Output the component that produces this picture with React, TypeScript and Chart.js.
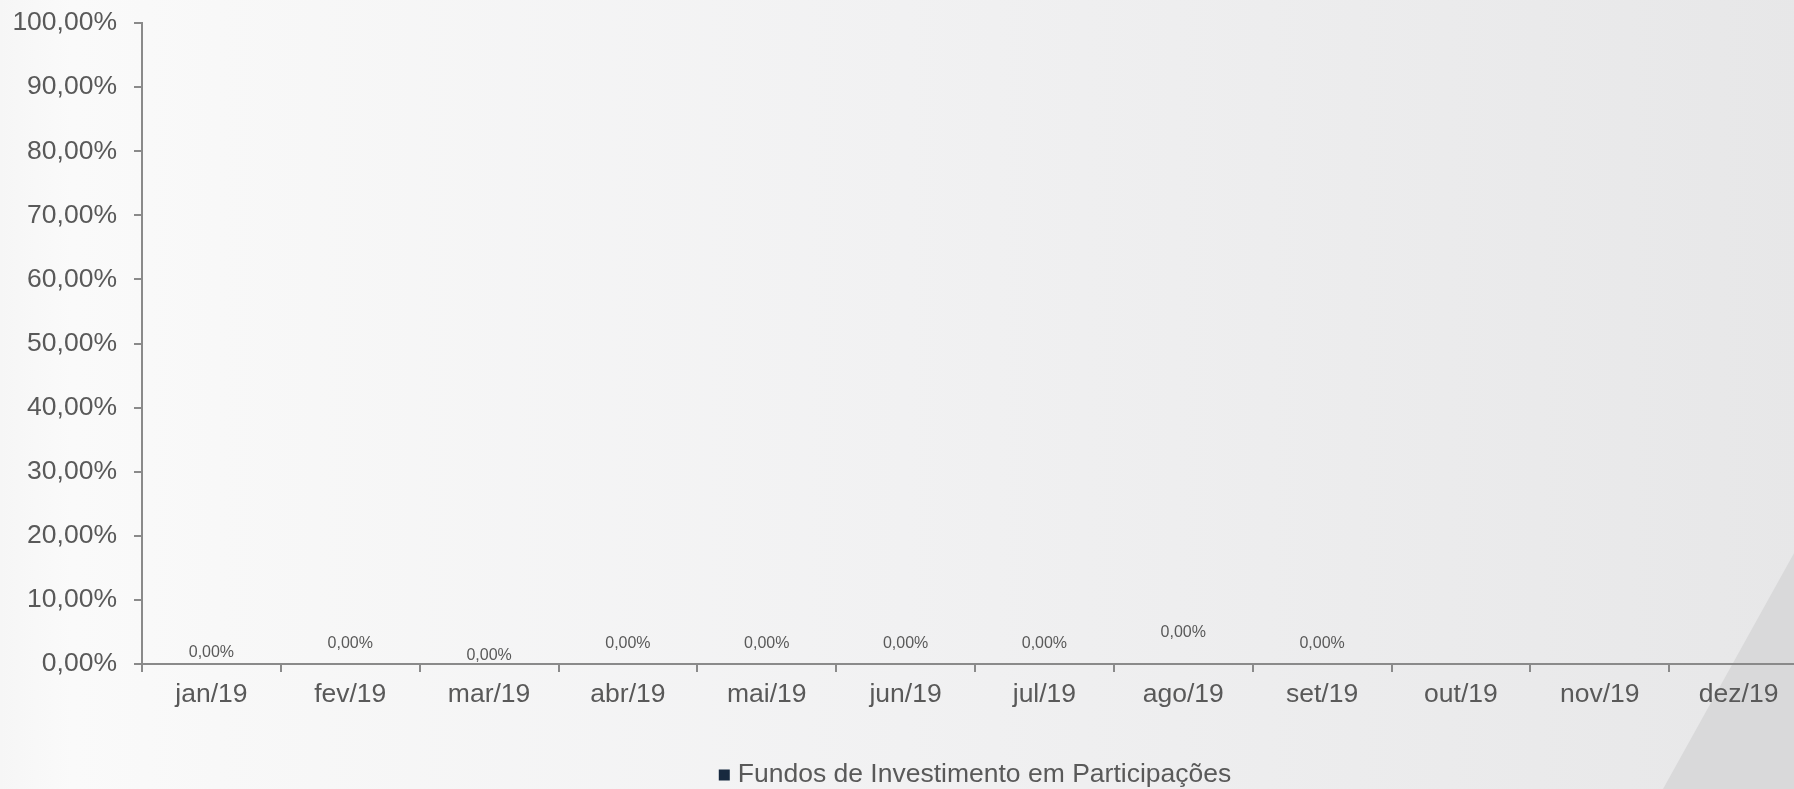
import { useEffect, useRef } from 'react';
import { Chart, registerables } from 'chart.js';

Chart.register(...registerables);

const categories = ['jan/19', 'fev/19', 'mar/19', 'abr/19', 'mai/19', 'jun/19', 'jul/19', 'ago/19', 'set/19', 'out/19', 'nov/19', 'dez/19'];
const seriesName = 'Fundos de Investimento em Participações';
const seriesValues: (number | null)[] = [0, 0, 0, 0, 0, 0, 0, 0, 0, null, null, null];
const yTickValues = [0, 10, 20, 30, 40, 50, 60, 70, 80, 90, 100];

// style: vertical lift (px) of each data label above its bar end
const labelLift = [11, 20, 8, 20, 20, 20, 20, 31, 20, 20, 20, 20];

const FONT = "'Liberation Sans', Arial, sans-serif";
const TEXT = '#595959';
const AXIS = '#8a8a8a';
const SERIES_COLOR = '#17293F';

const fmt = (v: number) => v.toFixed(2).replace('.', ',') + '%';

const W = 1808;
const H = 789;

export default function App() {
  const ref = useRef<HTMLCanvasElement | null>(null);

  useEffect(() => {
    const canvas = ref.current;
    if (!canvas) return;

    const bgPlugin = {
      id: 'bg',
      beforeDraw(chart: any) {
        const { ctx, width, height } = chart;
        ctx.save();
        const g = ctx.createLinearGradient(0, 0, width, 0);
        g.addColorStop(0, '#f6f6f6');
        g.addColorStop(0.04, '#fafafa');
        g.addColorStop(0.12, '#f8f8f8');
        g.addColorStop(0.5, '#f1f1f2');
        g.addColorStop(1, '#e7e7e8');
        ctx.fillStyle = g;
        ctx.fillRect(0, 0, width, height);
        ctx.beginPath();
        ctx.moveTo(1808, 528);
        ctx.lineTo(1808, height);
        ctx.lineTo(1663, height);
        ctx.closePath();
        ctx.fillStyle = '#d9d9da';
        ctx.fill();
        ctx.restore();
      },
    };

    const labelsPlugin = {
      id: 'valueLabels',
      afterDatasetsDraw(chart: any) {
        const { ctx } = chart;
        const meta = chart.getDatasetMeta(0);
        ctx.save();
        ctx.font = `16px ${FONT}`;
        ctx.fillStyle = TEXT;
        ctx.textAlign = 'center';
        ctx.textBaseline = 'middle';
        meta.data.forEach((bar: any, i: number) => {
          const v = seriesValues[i];
          if (v === null || v === undefined) return;
          ctx.fillText(fmt(v), bar.x, bar.y - labelLift[i]);
        });
        ctx.restore();
      },
      afterDraw(chart: any) {
        const { ctx, chartArea } = chart;
        ctx.save();
        ctx.font = `26.5px ${FONT}`;
        const tw = ctx.measureText(seriesName).width;
        const box = 11;
        const gap = 8;
        const total = box + gap + tw;
        const cx = (chartArea.left + chartArea.right) / 2;
        const x0 = cx - total / 2;
        const cy = 775;
        ctx.fillStyle = SERIES_COLOR;
        ctx.fillRect(x0, cy - box / 2, box, box);
        ctx.fillStyle = TEXT;
        ctx.textAlign = 'left';
        ctx.textBaseline = 'middle';
        ctx.fillText(seriesName, x0 + box + gap, cy);
        ctx.restore();
      },
    };

    const chart = new Chart(canvas, {
      type: 'bar',
      data: {
        labels: categories,
        datasets: [
          {
            label: seriesName,
            data: seriesValues,
            backgroundColor: SERIES_COLOR,
            borderWidth: 0,
          },
        ],
      },
      options: {
        responsive: false,
        animation: false,
        devicePixelRatio: 1,
        layout: { padding: { top: 23, left: 0, right: 0, bottom: 0 } },
        plugins: {
          legend: { display: false },
          tooltip: { enabled: false },
        },
        scales: {
          x: {
            offset: true,
            grid: {
              offset: true,
              drawOnChartArea: false,
              tickLength: 8,
              color: AXIS,
              lineWidth: 2,
            },
            border: { color: AXIS, width: 2 },
            ticks: {
              color: TEXT,
              font: { family: FONT, size: 26.5 },
              padding: 7,
              maxRotation: 0,
              autoSkip: false,
            },
            afterFit(scale: any) {
              scale.height = H - 664;
              scale.paddingLeft = 0;
              scale.paddingRight = 0;
            },
          },
          y: {
            min: 0,
            max: 100,
            afterBuildTicks(scale: any) {
              scale.ticks = yTickValues.map((v) => ({ value: v }));
            },
            grid: {
              drawOnChartArea: false,
              tickLength: 8,
              color: AXIS,
              lineWidth: 2,
            },
            border: { color: AXIS, width: 2 },
            ticks: {
              color: TEXT,
              font: { family: FONT, size: 26.5 },
              padding: 17,
              callback: (v: any) => fmt(Number(v)),
            },
            afterFit(scale: any) {
              scale.width = 142;
              scale.paddingTop = 0;
              scale.paddingBottom = 0;
            },
          },
        },
      },
      plugins: [bgPlugin, labelsPlugin],
    });

    return () => chart.destroy();
  }, []);

  return (
    <div style={{ position: 'fixed', left: 0, top: 0, width: 1794, height: 789, overflow: 'hidden' }}>
      <canvas ref={ref} width={W} height={H} style={{ display: 'block', width: W, height: H }} />
    </div>
  );
}
